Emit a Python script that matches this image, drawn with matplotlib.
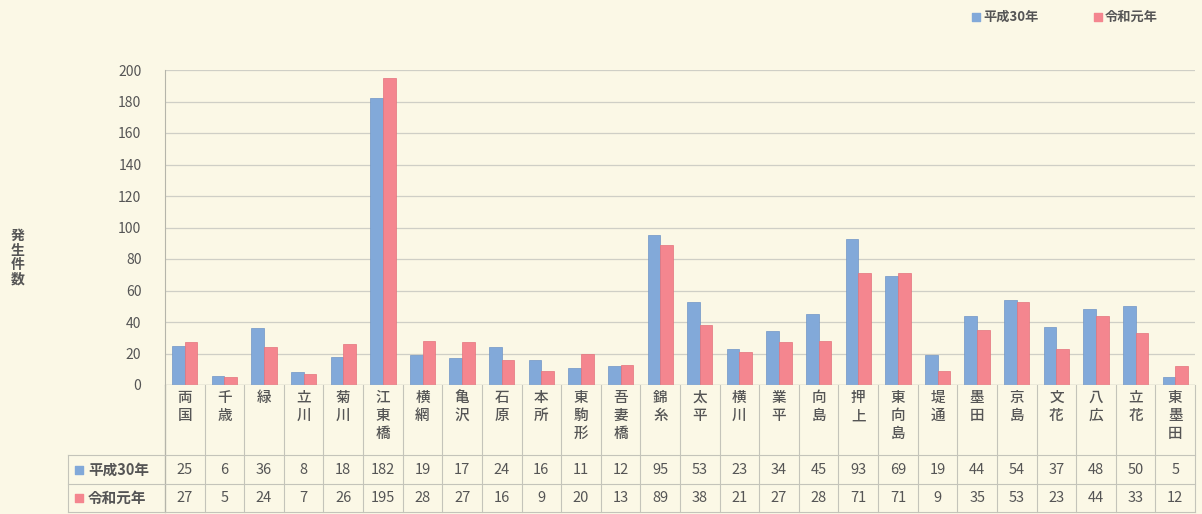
import numpy as np
import matplotlib.pyplot as plt

plt.rcParams['font.family'] = ['Noto Sans CJK JP', 'DejaVu Sans']

# data
towns = ['両国', '千歳', '緑', '立川', '菊川', '江東橋', '横網', '亀沢', '石原', '本所',
         '東駒形', '吾妻橋', '錦糸', '太平', '横川', '業平', '向島', '押上', '東向島', '堤通',
         '墨田', '京島', '文花', '八広', '立花', '東墨田']
h30 = [25, 6, 36, 8, 18, 182, 19, 17, 24, 16, 11, 12, 95, 53, 23, 34, 45, 93, 69, 19,
       44, 54, 37, 48, 50, 5]
r1 = [27, 5, 24, 7, 26, 195, 28, 27, 16, 9, 20, 13, 89, 38, 21, 27, 28, 71, 71, 9,
      35, 53, 23, 44, 33, 12]
series_names = ['平成30年', '令和元年']
yticks = [0, 20, 40, 60, 80, 100, 120, 140, 160, 180, 200]

bg = '#fbf8e6'
blue = '#82a9d9'
pink = '#f4868f'
txt = '#555555'
gridc = '#cfcfc6'

W, H = 1202, 514
fig = plt.figure(figsize=(W / 100, H / 100), dpi=100, facecolor=bg)

# main plot area in pixels
L, R, T, B = 165, 1195, 70, 385
ax = fig.add_axes([L / W, 1 - B / H, (R - L) / W, (B - T) / H])
ax.set_facecolor(bg)

n = len(towns)
x = np.arange(n)
bw = 0.32
ax.bar(x - bw / 2, h30, bw, color=blue, edgecolor='#6f95c6', linewidth=0.5, zorder=3)
ax.bar(x + bw / 2, r1, bw, color=pink, edgecolor='#e4737c', linewidth=0.5, zorder=3)

ax.set_xlim(-0.5, n - 0.5)
ax.set_ylim(0, 200)
ax.set_yticks(yticks)
ax.set_yticklabels([str(v) for v in yticks], fontsize=10, color=txt)
ax.tick_params(axis='y', length=0, pad=17)
ax.set_xticks([])
ax.grid(axis='y', color=gridc, linewidth=0.9, zorder=0)
for s in ['top', 'right', 'bottom']:
    ax.spines[s].set_visible(False)
ax.spines['left'].set_color('#b5b5aa')
ax.axhline(0, color='#b5b5aa', linewidth=0.9, zorder=4)

# y label
fig.text(18 / W, 1 - 258 / H, '発\n生\n件\n数', ha='center', va='center',
         fontsize=10, color=txt, fontweight='bold', linespacing=1.05)

# table in pixel coords
tab = fig.add_axes([0, 0, 1, 1], zorder=-1)
tab.set_xlim(0, W)
tab.set_ylim(H, 0)
tab.axis('off')

cw = (R - L) / n
top_t, row1, row2, bot_t = 391, 455, 484, 512
hdr_l = 68
lc = '#c4c4ba'
for i in range(n + 1):
    tab.plot([L + i * cw] * 2, [B, bot_t], color=lc, lw=0.8)
tab.plot([hdr_l, hdr_l], [row1, bot_t], color=lc, lw=0.8)
tab.plot([L, L], [B, bot_t], color='#b5b5aa', lw=0.9)
for yy in [row1, row2, bot_t]:
    tab.plot([hdr_l, R], [yy, yy], color=lc, lw=0.8)

for i, t in enumerate(towns):
    cx = L + (i + 0.5) * cw
    tab.text(cx, top_t, '\n'.join(t), ha='center', va='top', fontsize=10.5,
             color=txt, fontweight='medium', linespacing=1.38)
    tab.text(cx, (row1 + row2) / 2, str(h30[i]), ha='center', va='center',
             fontsize=10.5, color=txt)
    tab.text(cx, (row2 + bot_t) / 2, str(r1[i]), ha='center', va='center',
             fontsize=10.5, color=txt)

for yy, name, c in [((row1 + row2) / 2, series_names[0], blue),
                    ((row2 + bot_t) / 2, series_names[1], pink)]:
    tab.scatter([79], [yy], marker='s', s=30, color=c)
    tab.text(88, yy, name, ha='left', va='center', fontsize=10.5, color=txt,
             fontweight='bold')

# legend
for lx, name, c in [(976, series_names[0], blue), (1098, series_names[1], pink)]:
    tab.scatter([lx], [17], marker='s', s=26, color=c)
    tab.text(lx + 7, 17, name, ha='left', va='center', fontsize=9.5, color=txt,
             fontweight='bold')

fig.savefig('out.png', dpi=100, facecolor=bg)
